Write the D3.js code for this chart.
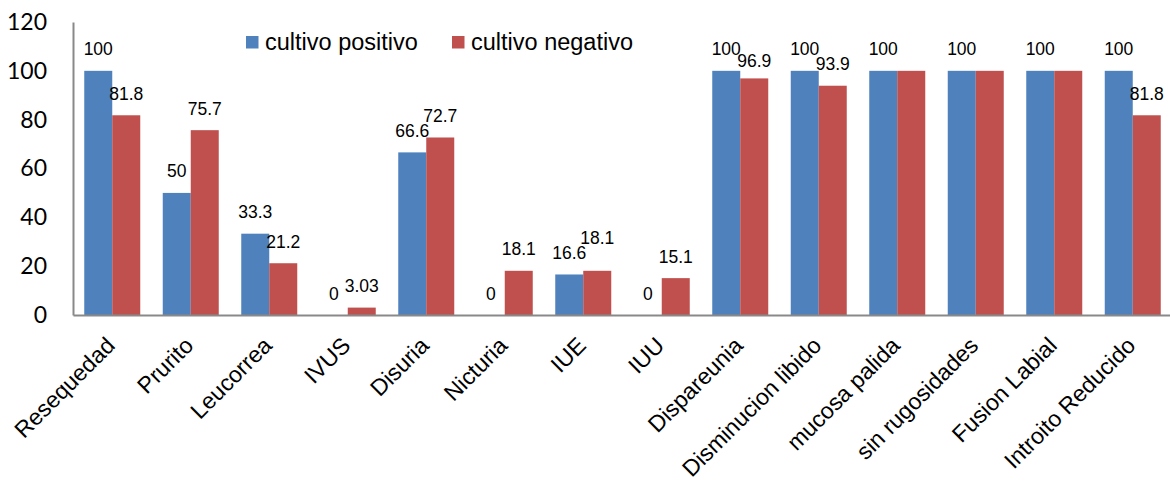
<!DOCTYPE html>
<html>
<head>
<meta charset="utf-8">
<script src="https://cdn.jsdelivr.net/npm/d3@7"></script>
<style>
  html, body { margin: 0; padding: 0; background: #fff; }
  svg { display: block; }
</style>
</head>
<body>
<svg id="chart" width="1170" height="481"></svg>
<script>
// Symptom categories along the x axis
const categories = [
  "Resequedad", "Prurito", "Leucorrea", "IVUS", "Disuria", "Nicturia", "IUE",
  "IUU", "Dispareunia", "Disminucion libido", "mucosa palida",
  "sin rugosidades", "Fusion Labial", "Introito Reducido"
];
// Percentages per series
const positivo = [100, 50, 33.3, 0, 66.6, 0, 16.6, 0, 100, 100, 100, 100, 100, 100];
const negativo = [81.8, 75.7, 21.2, 3.03, 72.7, 18.1, 18.1, 15.1, 96.9, 93.9, 100, 100, 100, 81.8];
// Series names and which values get a printed label
const seriesNames = ["cultivo positivo", "cultivo negativo"];
const labelPositivo = [true, true, true, true, true, true, true, true, true, true, true, true, true, true];
const labelNegativo = [true, true, true, true, true, true, true, true, true, true, false, false, false, true];
// Y axis ticks
const yTicks = [0, 20, 40, 60, 80, 100, 120];

const colors = ["#4F81BD", "#C0504D"];
const series = [
  { name: seriesNames[0], values: positivo, show: labelPositivo },
  { name: seriesNames[1], values: negativo, show: labelNegativo }
];

const svg = d3.select("#chart");
const plotLeft = 73, plotTop = 22, plotBottom = 315;
const step = 78.5;
const plotRight = plotLeft + step * categories.length;

const x = d3.scaleBand()
  .domain(categories)
  .range([plotLeft, plotRight])
  .paddingInner(1 - 56 / step)
  .paddingOuter((1 - 56 / step) / 2);

const xs = d3.scaleBand()
  .domain(d3.range(series.length))
  .range([0, x.bandwidth()]);

const y = d3.scaleLinear().domain([0, 120]).range([plotBottom, plotTop]);

// Bars
const groups = svg.append("g").selectAll("g")
  .data(series)
  .join("g")
  .attr("fill", (d, i) => colors[i]);

groups.each(function (s, si) {
  d3.select(this).selectAll("rect")
    .data(s.values.map((v, i) => ({ v, c: categories[i] })))
    .join("rect")
    .attr("x", d => x(d.c) + xs(si))
    .attr("width", xs.bandwidth())
    .attr("y", d => y(d.v))
    .attr("height", d => y(0) - y(d.v));
});

// Value labels sit a fixed gap above each bar; a couple are nudged so
// neighbouring labels do not collide.
const labelGap = 15.5;
const labelNudge = {
  "cultivo negativo|IUE": -11,
  "cultivo negativo|Dispareunia": 4
};
series.forEach((s, si) => {
  svg.append("g")
    .selectAll("text")
    .data(s.values.map((v, i) => ({ v, c: categories[i], show: s.show[i] })).filter(d => d.show))
    .join("text")
    .attr("x", d => x(d.c) + xs(si) + xs.bandwidth() / 2)
    .attr("y", d => y(d.v) - labelGap + (labelNudge[s.name + "|" + d.c] || 0))
    .attr("text-anchor", "middle")
    .attr("font-family", "Liberation Sans, Arial, sans-serif")
    .attr("font-size", 17.5)
    .attr("fill", "#000")
    .text(d => d.v);
});

// Y axis
const yAxis = svg.append("g")
  .attr("transform", `translate(${plotLeft},0)`)
  .call(d3.axisLeft(y).tickValues(yTicks).tickSize(0).tickPadding(26));
yAxis.select(".domain").attr("stroke", "#898989").attr("stroke-width", 2);
yAxis.selectAll("text")
  .attr("font-family", "Lato, sans-serif")
  .attr("font-size", 23)
  .attr("fill", "#000");

// X axis
const xAxis = svg.append("g")
  .attr("transform", `translate(0,${plotBottom})`)
  .call(d3.axisBottom(x).tickSize(0).tickFormat(""));
xAxis.select(".domain").attr("stroke", "#898989").attr("stroke-width", 2);

// Rotated category labels
svg.append("g")
  .selectAll("text")
  .data(categories)
  .join("text")
  .attr("transform", d => `translate(${x(d) + x.bandwidth() / 2 + 4},347) rotate(-45)`)
  .attr("text-anchor", "end")
  .attr("font-family", "Liberation Sans, Arial, sans-serif")
  .attr("font-size", 23)
  .attr("fill", "#000")
  .text(d => d);

// Legend
const legendX = [246, 452];
const legend = svg.append("g")
  .selectAll("g")
  .data(seriesNames)
  .join("g")
  .attr("transform", (d, i) => `translate(${legendX[i]},36)`);
legend.append("rect")
  .attr("width", 12.5)
  .attr("height", 12.5)
  .attr("fill", (d, i) => colors[i]);
legend.append("text")
  .attr("x", 19)
  .attr("y", 14)
  .attr("font-family", "Liberation Sans, Arial, sans-serif")
  .attr("font-size", 23.5)
  .attr("fill", "#000")
  .text(d => d);
</script>
</body>
</html>
